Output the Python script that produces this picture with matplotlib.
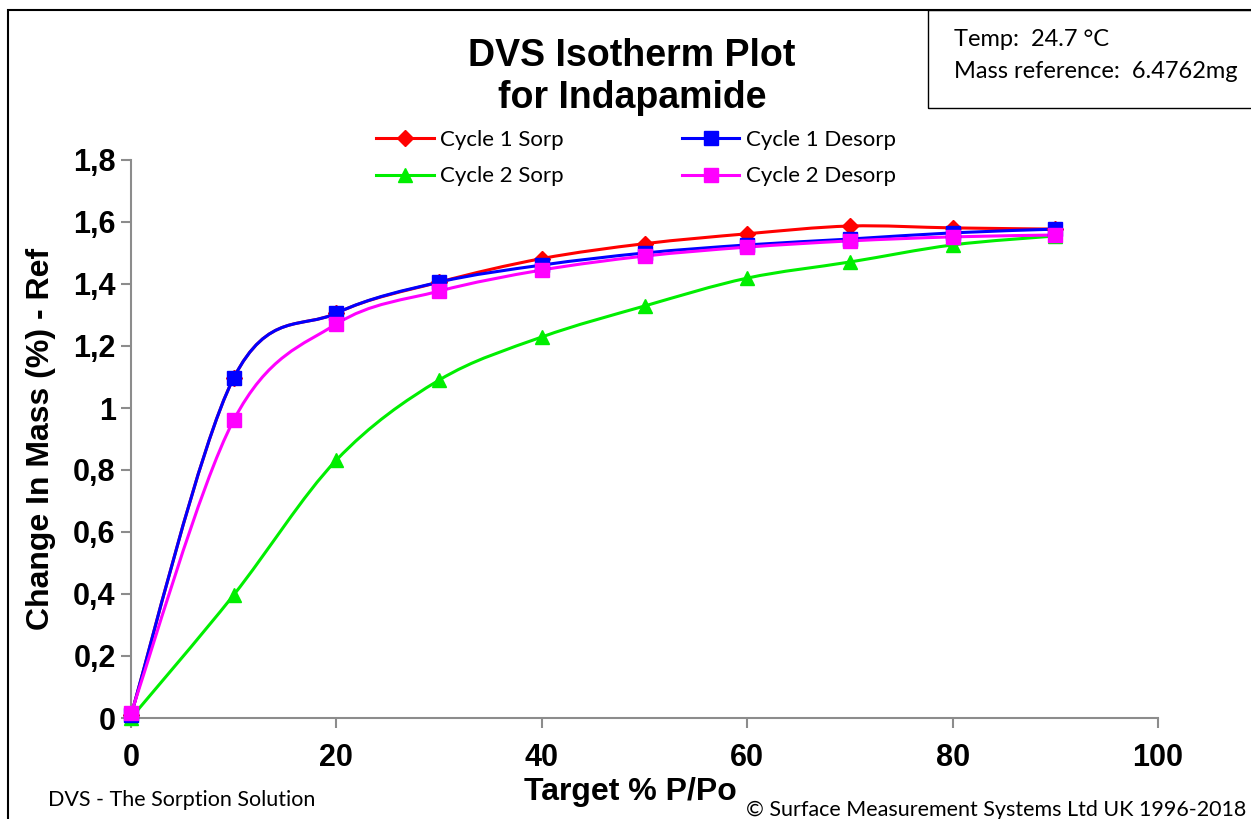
import numpy as np
import matplotlib.pyplot as plt
from matplotlib.path import Path
from matplotlib.patches import PathPatch, Rectangle
from matplotlib.lines import Line2D

# DATA
rh = [0, 10, 20, 30, 40, 50, 60, 70, 80, 90]
c1_sorp = [0.01, 1.097, 1.306, 1.406, 1.482, 1.530, 1.562, 1.587, 1.581, 1.577]
c1_desorp = [0.01, 1.097, 1.306, 1.406, 1.461, 1.500, 1.526, 1.545, 1.565, 1.577]
c2_sorp = [0.0, 0.397, 0.832, 1.090, 1.229, 1.329, 1.419, 1.471, 1.526, 1.555]
c2_desorp = [0.015, 0.961, 1.271, 1.377, 1.445, 1.490, 1.519, 1.539, 1.552, 1.558]

series = [
    ("Cycle 1 Sorp", c1_sorp, "#ff0000", "D", 8),
    ("Cycle 2 Sorp", c2_sorp, "#00ee00", "^", 10),
    ("Cycle 1 Desorp", c1_desorp, "#0000ff", "s", 10),
    ("Cycle 2 Desorp", c2_desorp, "#ff00ff", "s", 10),
]
xticks = [0, 20, 40, 60, 80, 100]
yticks = [0, 0.2, 0.4, 0.6, 0.8, 1, 1.2, 1.4, 1.6, 1.8]
ytick_labels = ["0", "0,2", "0,4", "0,6", "0,8", "1", "1,2", "1,4", "1,6", "1,8"]


def smooth_path(x, y):
    ''' Excel-like smoothed line: cubic Bezier through the points '''
    x = np.asarray(x, float)
    y = np.asarray(y, float)
    pts = np.column_stack([x, y])
    verts = [pts[0]]
    codes = [Path.MOVETO]
    n = len(pts)
    for i in range(n - 1):
        p0 = pts[i - 1] if i > 0 else pts[i]
        p1 = pts[i]
        p2 = pts[i + 1]
        p3 = pts[i + 2] if i + 2 < n else pts[i + 1]
        c1 = p1 + (p2 - p0) / 6
        c2 = p2 - (p3 - p1) / 6
        verts += [c1, c2, p2]
        codes += [Path.CURVE4] * 3
    return Path(verts, codes)


fig = plt.figure(figsize=(12.51, 8.19), dpi=100)
ax = fig.add_axes([131 / 1251, 101 / 819, 1027 / 1251, 558 / 819])

for name, vals, col, mk, ms in series:
    ax.add_patch(PathPatch(smooth_path(rh, vals), fill=False, edgecolor=col, lw=2.2, zorder=3))
    ax.plot(rh, vals, ls="none", marker=mk, color=col, ms=ms, zorder=4, clip_on=False)

ax.set_xlim(0, 100)
ax.set_ylim(0, 1.8)
ax.set_xticks(xticks)
ax.set_yticks(yticks)
ax.set_yticklabels(ytick_labels)
for s in ["top", "right"]:
    ax.spines[s].set_visible(False)
for s in ["left", "bottom"]:
    ax.spines[s].set_color("#8c8c8c")
    ax.spines[s].set_linewidth(1.5)
ax.tick_params(direction="out", length=7, width=1.5, color="#8c8c8c", labelsize=22)
ax.tick_params(axis="y", pad=4)
ax.tick_params(axis="x", pad=11)
for lab in ax.get_xticklabels() + ax.get_yticklabels():
    lab.set_fontweight("bold")
    lab.set_family("Liberation Sans")

ax.set_xlabel("Target % P/Po", fontsize=23, fontweight="bold", family="Liberation Sans", labelpad=4)
ax.xaxis.set_label_coords(0.486, -0.105)
ax.set_ylabel("Change In Mass (%) - Ref", fontsize=23, fontweight="bold", family="Liberation Sans", labelpad=12)

# title
fig.text(632 / 1251, 1 - 77 / 819, "DVS Isotherm Plot\nfor Indapamide", ha="center", va="center",
         fontsize=27, fontweight="bold", family="Liberation Sans", linespacing=1.2)

# legend
handles = [Line2D([], [], color=c, marker=m, ms=ms, lw=2.2) for _, _, c, m, ms in series]
labels = [s[0] for s in series]
fig.legend(handles, labels, ncol=2, loc="center", bbox_to_anchor=(636 / 1251, 1 - 158 / 819),
           frameon=False, prop={"family": "Lato", "size": 16}, columnspacing=5.3,
           handlelength=2.6, handletextpad=0.3, labelspacing=0.75)

# frame and info box
fig.add_artist(Rectangle((8 / 1251, -0.1), 1.2, (1 - 10 / 819) + 0.1, transform=fig.transFigure,
                         fill=False, edgecolor="black", lw=1.5))
fig.add_artist(Rectangle((928 / 1251, 1 - 108 / 819), 1.2, 98 / 819, transform=fig.transFigure,
                         fill=False, edgecolor="black", lw=1))
fig.text(954 / 1251, 1 - 39 / 819, "Temp:  24.7 \u00b0C", fontsize=17, family="Lato", va="center")
fig.text(954 / 1251, 1 - 72 / 819, "Mass reference:  6.4762mg", fontsize=17, family="Lato", va="center")

fig.text(48 / 1251, 1 - 800 / 819, "DVS - The Sorption Solution", fontsize=15.5, family="Lato", va="center")
fig.text(746 / 1251, 1 - 810 / 819, "\u00a9 Surface Measurement Systems Ltd UK 1996-2018", fontsize=15.5,
         family="Lato", va="center")

fig.savefig("out.png", dpi=100)
